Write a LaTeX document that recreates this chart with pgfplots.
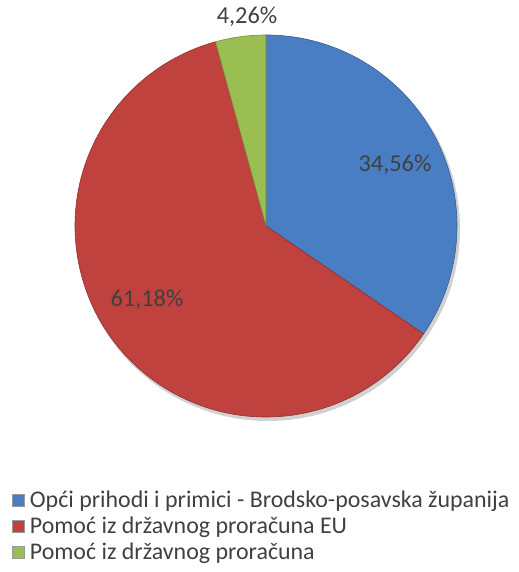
\documentclass[border=0pt]{standalone}
\usepackage{pgfplots}
\pgfplotsset{compat=1.18}
\usepackage{fontspec}
\setmainfont{Carlito}
\definecolor{cblue}{RGB}{74,126,196}
\definecolor{cred}{RGB}{192,66,63}
\definecolor{cgreen}{RGB}{155,190,82}
\definecolor{ctext}{RGB}{64,64,64}
\begin{document}
\begin{tikzpicture}
\begin{axis}[
  x=1bp, y=1bp, xmin=0, xmax=519, ymin=0, ymax=572,
  scale only axis, hide axis, clip=false,
  legend style={at={(axis cs:12,83)}, anchor=north west, draw=none, fill=none,
    font=\fontsize{24}{27}\selectfont, text=ctext, row sep=5bp,
    inner sep=0pt, nodes={inner sep=1.5bp}},
  legend cell align=left,
  legend image code/.code={\draw[#1, draw=black!40, line width=0.4bp] (0bp,-6bp) rectangle (12bp,6bp);
    \path[draw=none, fill=none] (0bp,0bp) -- (16bp,0bp);},
]
\path (axis cs:0,0) rectangle (axis cs:519,572);
% values (percent), start at 90 deg, clockwise
\addlegendimage{fill=cblue}
\addlegendentry{Opći prihodi i primici - Brodsko-posavska županija}
\addlegendimage{fill=cred}
\addlegendentry{Pomoć iz državnog proračuna EU}
\addlegendimage{fill=cgreen}
\addlegendentry{Pomoć iz državnog proračuna}
% shadow
\fill[black!18] (axis cs:268,343) circle[radius=192bp];
\foreach \a/\b/\c in {90/-34.416/cblue, -34.416/-254.664/cred, -254.664/-270/cgreen}{
  \edef\tmp{\noexpand\fill[\c, draw=\c!75!black, line width=0.6bp, line join=round]
    (axis cs:266,346) -- ++(\a:191bp) arc[start angle=\a, end angle=\b, radius=191bp] -- cycle;}
  \tmp
}
\node[text=ctext, font=\fontsize{24.4}{26}\selectfont] at (axis cs:395,407) {34,56\%};
\node[text=ctext, font=\fontsize{24.4}{26}\selectfont] at (axis cs:147,272) {61,18\%};
\node[text=ctext, font=\fontsize{24.4}{26}\selectfont] at (axis cs:247,555) {4,26\%};
\end{axis}
\end{tikzpicture}
\end{document}
